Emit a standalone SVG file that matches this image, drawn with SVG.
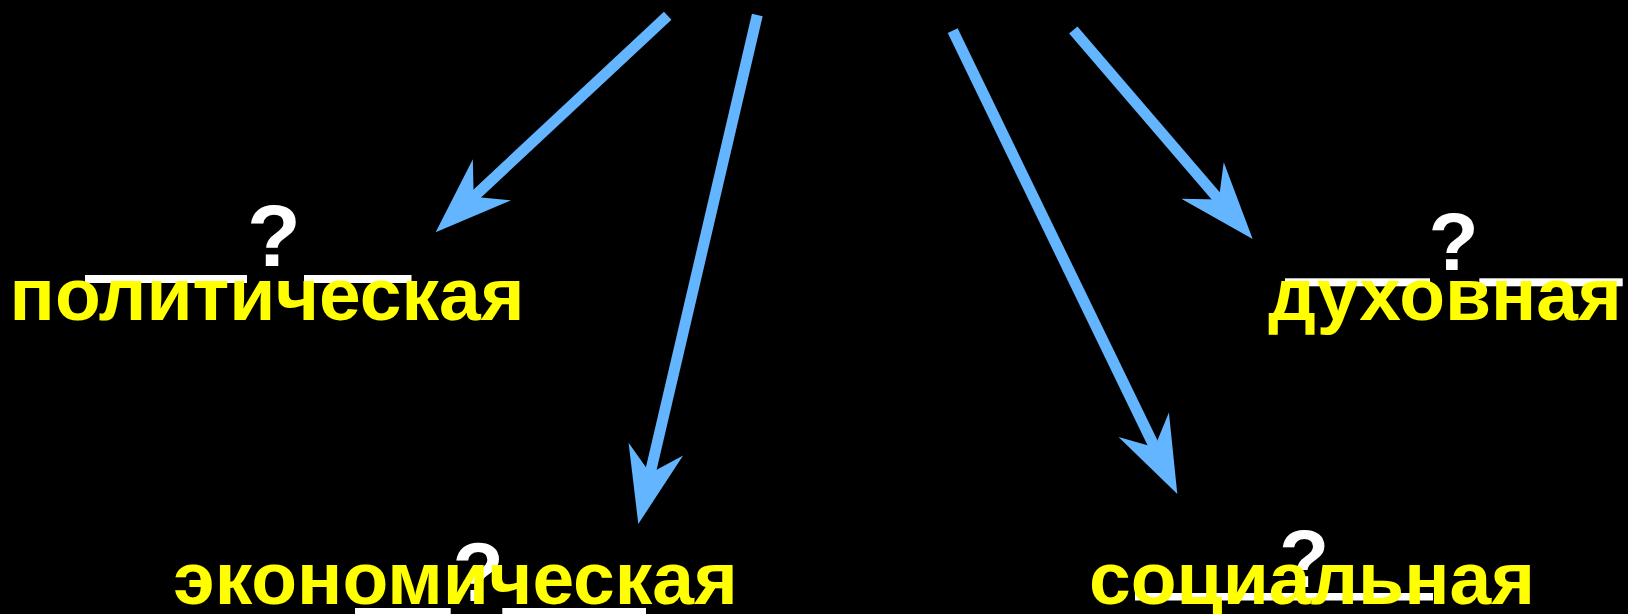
<svg xmlns="http://www.w3.org/2000/svg" width="1628" height="614" viewBox="0 0 1628 614">
<style>
.w{fill:#FFFFFF;font-family:"Liberation Sans",Arial,sans-serif;font-weight:bold}
.bar{fill:#FFFFFF}
.y{fill:#FFFF00;font-family:"Liberation Sans",Arial,sans-serif;font-weight:bold;font-size:75px;text-anchor:middle}
.ar{stroke:#63B5FF;stroke-width:11;fill:none;marker-end:url(#head)}
</style>
<defs>
<marker id="head" markerUnits="userSpaceOnUse" orient="auto" markerWidth="90" markerHeight="70" refX="0" refY="0" viewBox="-30 -30 90 60" overflow="visible">
<path d="M50,0 L-27,-28 L-2,0 L-27,28 Z" fill="#63B5FF"/>
</marker>
</defs>
<rect width="1628" height="614" fill="#000000"/>
<g id="connectors">
<line class="ar" x1="667.7" y1="15.7" x2="472.2" y2="198.2"/>
<line class="ar" x1="757.3" y1="15" x2="649.7" y2="475.3"/>
<line class="ar" x1="952.7" y1="30.7" x2="1155.5" y2="449"/>
<line class="ar" x1="1073.3" y1="30" x2="1220.1" y2="201"/>
</g>
<g id="political">
<rect class="bar" x="85" y="275" width="162" height="8"/>
<rect class="bar" x="304" y="275" width="107.5" height="8"/>
<text class="w" font-size="88" x="247" y="266">?</text>
<text class="y" x="267" y="320">политическая</text>
</g>
<g id="economic">
<rect class="bar" x="355" y="608" width="95.7" height="8"/>
<rect class="bar" x="502.3" y="608" width="143.7" height="8"/>
<text class="w" font-size="84" x="452.5" y="601">?</text>
<text class="y" x="455.6" y="604">экономическая</text>
</g>
<g id="social">
<rect class="bar" x="1135" y="593" width="298" height="7.5"/>
<text class="w" font-size="82" x="1279" y="587">?</text>
<text class="y" x="1312" y="604">социальная</text>
</g>
<g id="spiritual">
<rect class="bar" x="1285" y="278.3" width="145" height="8"/>
<rect class="bar" x="1479.3" y="278.3" width="143.4" height="8"/>
<text class="w" font-size="82" x="1428.5" y="269.5">?</text>
<text class="y" x="1445" y="320">духовная</text>
</g>
</svg>
